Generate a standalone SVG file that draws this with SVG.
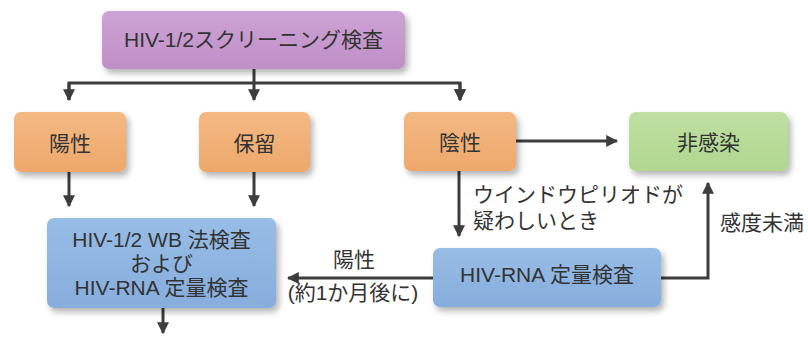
<svg xmlns="http://www.w3.org/2000/svg" width="808" height="345" viewBox="0 0 808 345">
<defs>
<marker id="ah" markerWidth="4" markerHeight="4" refX="3.6" refY="2" orient="auto" markerUnits="strokeWidth">
<path d="M0,0 L4,2 L0,4 z" fill="#3d3d3d"/>
</marker>
<filter id="sh" x="-10%" y="-10%" width="125%" height="135%">
<feGaussianBlur in="SourceAlpha" stdDeviation="3"/>
<feOffset dx="3" dy="4" result="b"/>
<feComponentTransfer><feFuncA type="linear" slope="0.3"/></feComponentTransfer>
<feMerge><feMergeNode/><feMergeNode in="SourceGraphic"/></feMerge>
</filter>
<linearGradient id="gp" x1="0" y1="0" x2="0" y2="1"><stop offset="0" stop-color="#cda3d4"/><stop offset="1" stop-color="#c08fc8"/></linearGradient>
<linearGradient id="go" x1="0" y1="0" x2="0" y2="1"><stop offset="0" stop-color="#f4b982"/><stop offset="1" stop-color="#eea86c"/></linearGradient>
<linearGradient id="gg" x1="0" y1="0" x2="0" y2="1"><stop offset="0" stop-color="#bfe0a2"/><stop offset="1" stop-color="#b0d78f"/></linearGradient>
<linearGradient id="gb" x1="0" y1="0" x2="0" y2="1"><stop offset="0" stop-color="#98bde6"/><stop offset="1" stop-color="#86addd"/></linearGradient>
</defs>
<style>
text{font-family:"Liberation Sans","Noto Sans CJK JP","Noto Sans CJK SC",sans-serif;fill:#333;text-anchor:middle;font-size:21px}
.box{filter:url(#sh)}
.ln{fill:none;stroke:#3d3d3d;stroke-width:3}
.st{text-anchor:start}
</style>
<rect width="808" height="345" fill="#ffffff"/>
<g id="connectors">
<path class="ln" d="M254,69 V83"/>
<path class="ln" d="M69,100 V83 H460 V100" marker-end="url(#ah)"/>
<path class="ln" d="M69,83 V100" marker-end="url(#ah)"/>
<path class="ln" d="M254,83 V100" marker-end="url(#ah)"/>
<path class="ln" d="M460,83 V100" marker-end="url(#ah)"/>
<path class="ln" d="M516,141 H617" marker-end="url(#ah)"/>
<path class="ln" d="M69,172 V206" marker-end="url(#ah)"/>
<path class="ln" d="M254,172 V206" marker-end="url(#ah)"/>
<path class="ln" d="M459,171 V236" marker-end="url(#ah)"/>
<path class="ln" d="M433,278 H288" marker-end="url(#ah)"/>
<path class="ln" d="M661,278 H708 V183" marker-end="url(#ah)"/>
<path class="ln" d="M163,308 V333" marker-end="url(#ah)"/>
<text class="st" x="473" y="202">ウインドウピリオドが</text>
<text class="st" x="473" y="228">疑わしいとき</text>
<text class="st" x="720" y="230">感度未満</text>
<text x="354" y="267">陽性</text>
<text x="353" y="300">(約1か月後に)</text>
</g>
<g id="screening">
<rect class="box" x="102" y="11" width="303" height="58" rx="7" fill="url(#gp)"/>
<text x="253.5" y="47">HIV-1/2スクリーニング検査</text>
</g>
<g id="positive">
<rect class="box" x="14" y="112" width="112" height="60" rx="7" fill="url(#go)"/>
<text x="70" y="151">陽性</text>
</g>
<g id="hold">
<rect class="box" x="199" y="112" width="111" height="60" rx="7" fill="url(#go)"/>
<text x="254.5" y="151">保留</text>
</g>
<g id="negative">
<rect class="box" x="404" y="112" width="112" height="59" rx="7" fill="url(#go)"/>
<text x="460" y="150">陰性</text>
</g>
<g id="noninfected">
<rect class="box" x="629" y="112" width="159" height="59" rx="7" fill="url(#gg)"/>
<text x="708.5" y="150">非感染</text>
</g>
<g id="wb">
<rect class="box" x="47" y="218" width="229" height="90" rx="7" fill="url(#gb)"/>
<text x="161.5" y="247">HIV-1/2 WB 法検査</text>
<text x="161.5" y="271">および</text>
<text x="161.5" y="295">HIV-RNA 定量検査</text>
</g>
<g id="rna">
<rect class="box" x="433" y="248" width="228" height="59" rx="7" fill="url(#gb)"/>
<text x="547" y="282">HIV-RNA 定量検査</text>
</g>
</svg>
